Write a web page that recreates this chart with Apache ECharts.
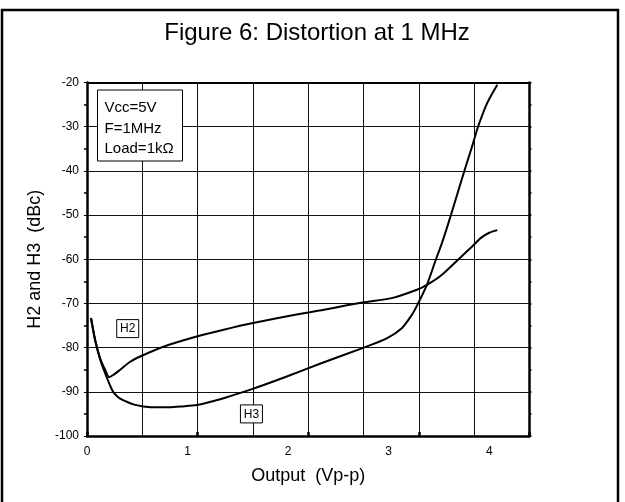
<!DOCTYPE html>
<html>
<head>
<meta charset="utf-8">
<script src="https://cdn.jsdelivr.net/npm/echarts@6/dist/echarts.min.js"></script>
<style>
  html, body { margin: 0; padding: 0; background: #fff; }
  #chart { width: 625px; height: 502px; }
</style>
</head>
<body>
<div id="chart"></div>
<script>
// Harmonic distortion vs output swing, 1 MHz test tone
const FONT = '"Liberation Sans", Arial, sans-serif';

const titleText = 'Figure 6: Distortion at 1 MHz';
const xName = 'Output  (Vp-p)';
const yName = 'H2 and H3  (dBc)';

const xTickLabels = [0, 1, 2, 3, 4];
const yTickLabels = [-100, -90, -80, -70, -60, -50, -40, -30, -20];

// Second harmonic
const h2X = [0.04, 0.08, 0.13, 0.18, 0.22, 0.26, 0.33, 0.43, 0.54, 0.76, 1.09, 1.35, 1.64, 2.11, 2.31, 2.74, 3.03, 3.28, 3.38, 3.53, 3.69, 3.83, 3.92, 4.00, 4.08];
const h2Y = [-73.3, -78.2, -82.4, -85.0, -86.7, -86.2, -85.0, -83.2, -81.9, -79.8, -77.5, -76.0, -74.5, -72.4, -71.6, -69.8, -68.8, -66.9, -65.8, -63.5, -60.1, -57.1, -55.1, -54.0, -53.4];

// Third harmonic
const h3X = [0.04, 0.08, 0.13, 0.18, 0.23, 0.26, 0.32, 0.39, 0.47, 0.56, 0.70, 0.82, 0.95, 1.09, 1.22, 1.35, 1.64, 1.98, 2.31, 2.74, 2.98, 3.13, 3.23, 3.29, 3.38, 3.47, 3.53, 3.62, 3.74, 3.83, 3.89, 3.98, 4.08];
const h3Y = [-73.3, -78.2, -82.6, -85.8, -88.6, -90.0, -91.4, -92.2, -92.9, -93.3, -93.5, -93.5, -93.3, -93.0, -92.3, -91.5, -89.4, -86.6, -83.7, -80.1, -77.9, -75.6, -72.6, -70.1, -65.8, -60.0, -56.3, -49.9, -40.9, -34.4, -29.9, -24.6, -20.5];

// Curve tags, placed in data coordinates
const tagNames = ['H2', 'H3'];
const tagX = [0.405, 1.635];
const tagY = [-75.7, -95.0];

// Test conditions box
const conditions = ['Vcc=5V', 'F=1MHz', 'Load=1k\u03A9'];

const zip = (xs, ys) => xs.map((x, i) => [x, ys[i]]);

const chart = echarts.init(document.getElementById('chart'), null, { renderer: 'canvas' });

const black = '#000';
const grid = { left: 87, top: 82.5, right: 95.5, bottom: 66, containLabel: false };

const option = {
  backgroundColor: '#fff',
  animation: false,
  grid: grid,
  xAxis: [
    {
      type: 'value', min: 0, max: 4.4, interval: 1, position: 'bottom',
      axisLine: { show: true, onZero: false, lineStyle: { color: black, width: 2.5 } },
      axisTick: { show: false },
      splitLine: { show: false },
      axisLabel: {
        color: black, fontFamily: FONT, fontSize: 12, margin: 10,
        formatter: v => (xTickLabels.indexOf(v) >= 0 ? String(v) : '')
      },
      name: xName, nameLocation: 'middle', nameGap: 31,
      nameTextStyle: { color: black, fontFamily: FONT, fontSize: 18 }
    },
    {
      // grid columns: eight equal divisions of the swing range
      type: 'value', min: 0, max: 8, interval: 1, position: 'top',
      axisLine: { show: true, onZero: false, lineStyle: { color: black, width: 2 } },
      axisTick: { show: false },
      axisLabel: { show: false },
      splitLine: { show: true, lineStyle: { color: '#111', width: 1 } }
    },
    {
      // short bottom ticks every second column
      type: 'value', min: 0, max: 4, interval: 1, position: 'bottom',
      axisLine: { show: false, onZero: false },
      axisTick: { show: true, inside: true, length: 4, lineStyle: { color: black, width: 2.5 } },
      axisLabel: { show: false },
      splitLine: { show: false }
    }
  ],
  yAxis: [
    {
      type: 'value', min: -100, max: -20, interval: 10, position: 'left',
      axisLine: { show: true, onZero: false, lineStyle: { color: black, width: 2.5 } },
      axisTick: { show: true, inside: false, length: 3, lineStyle: { color: black, width: 1 } },
      minorTick: { show: true, splitNumber: 2, length: 3, lineStyle: { color: black, width: 1.5 } },
      splitLine: { show: true, lineStyle: { color: '#111', width: 1 } },
      axisLabel: { color: black, fontFamily: FONT, fontSize: 12, margin: 8 },
      name: yName, nameLocation: 'middle', nameGap: 32, nameRotate: 90,
      nameTextStyle: { color: black, fontFamily: FONT, fontSize: 18 }
    },
    {
      type: 'value', min: -100, max: -20, interval: 10, position: 'right',
      axisLine: { show: true, onZero: false, lineStyle: { color: black, width: 2.5 } },
      axisTick: { show: true, inside: false, length: 2, lineStyle: { color: black, width: 1.5 } },
      minorTick: { show: true, splitNumber: 2, length: 2, lineStyle: { color: black, width: 1.5 } },
      splitLine: { show: false },
      axisLabel: { show: false }
    }
  ],
  series: [
    {
      name: 'H2', type: 'line', xAxisIndex: 0, yAxisIndex: 0,
      data: zip(h2X, h2Y), smooth: 0.25, symbol: 'none',
      lineStyle: { color: black, width: 2 }, z: 5
    },
    {
      name: 'H3', type: 'line', xAxisIndex: 0, yAxisIndex: 0,
      data: zip(h3X, h3Y), smooth: 0.25, symbol: 'none',
      lineStyle: { color: black, width: 2 }, z: 5
    }
  ]
};

chart.setOption(option);

// Frame, title, conditions box and curve tags
const elements = [
  {
    type: 'rect', silent: true, z: 10,
    shape: { x: 2, y: 10, width: 616, height: 500 },
    style: { fill: 'none', stroke: black, lineWidth: 2.5 }
  },
  {
    type: 'text', z: 10, x: 317, y: 33,
    style: { text: titleText, fill: black, font: '24px ' + FONT, align: 'center', verticalAlign: 'middle' }
  },
  {
    type: 'rect', z: 10,
    shape: { x: 97.5, y: 90, width: 85, height: 71 },
    style: { fill: '#fff', stroke: black, lineWidth: 1 }
  }
];

conditions.forEach((t, i) => {
  elements.push({
    type: 'text', z: 11, x: 104.5, y: 107.7 + i * 20.8,
    style: { text: t, fill: black, font: '15px ' + FONT, align: 'left', verticalAlign: 'middle' }
  });
});

tagNames.forEach((t, i) => {
  const p = chart.convertToPixel({ xAxisIndex: 0, yAxisIndex: 0 }, [tagX[i], tagY[i]]);
  elements.push({
    type: 'rect', z: 10,
    shape: { x: p[0] - 11, y: p[1] - 9, width: 22, height: 18 },
    style: { fill: '#fff', stroke: black, lineWidth: 1 }
  });
  elements.push({
    type: 'text', z: 11, x: p[0], y: p[1] + 0.5,
    style: { text: t, fill: black, font: '12px ' + FONT, align: 'center', verticalAlign: 'middle' }
  });
});

chart.setOption({ graphic: { elements: elements } });
</script>
</body>
</html>
